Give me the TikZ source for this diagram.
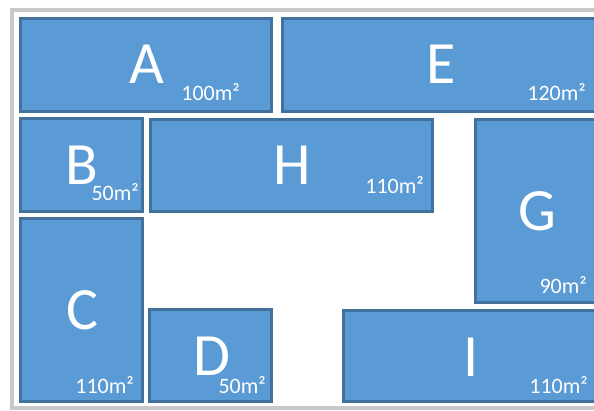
\documentclass[tikz,border=0pt]{standalone}
\usepackage{fontspec}
\setmainfont{Carlito}
\usepackage{xcolor}
\usepackage{tikz}

\definecolor{roomfill}{HTML}{5B9BD5}
\definecolor{roomline}{HTML}{41719C}
\definecolor{framegray}{HTML}{C8C8C8}

\tikzset{
  room/.style={fill=roomfill, draw=roomline, line width=3pt},
  letter/.style={anchor=base, inner sep=0pt, text=white, font=\fontsize{60}{60}\selectfont},
  area/.style={anchor=base east, inner sep=0pt, text=white, font=\fontsize{22}{22}\selectfont},
}

\begin{document}
\begin{tikzpicture}[x=1pt, y=-1pt]
  \useasboundingbox (0,0) rectangle (594,410);
  \clip (0,0) rectangle (594,410);
  % outer frame
  \draw[framegray, line width=4pt] (620,9.5) -- (12,9.5) -- (12,408) -- (620,408);
  % rooms
  \draw[room] (20.5,18.5) rectangle (271.5,111.5);
  \draw[room] (282.5,18.5) rectangle (610,111.5);
  \draw[room] (20.5,118.5) rectangle (142.5,211.5);
  \draw[room] (150.5,119.5) rectangle (432.5,211.5);
  \draw[room] (475.5,119.5) rectangle (610,302.5);
  \draw[room] (20.5,218.5) rectangle (142.5,401.5);
  \draw[room] (149.5,309.5) rectangle (271.5,401.5);
  \draw[room] (343.5,310.5) rectangle (610,401.5);
  % names and areas
  \node[letter] (labA) at (147,83) {A};
  \node[area] (areaA) at (240,100) {100m²};
  \node[letter] (labE) at (441,83) {E};
  \node[area] (areaE) at (586,100) {120m²};
  \node[letter] (labB) at (82,184) {B};
  \node[area] (areaB) at (139,200) {50m²};
  \node[letter] (labH) at (292,184) {H};
  \node[area] (areaH) at (424,193) {110m²};
  \node[letter] (labG) at (537,230) {G};
  \node[area] (areaG) at (587,293) {90m²};
  \node[letter] (labC) at (82,329) {C};
  \node[area] (areaC) at (134,393) {110m²};
  \node[letter] (labD) at (212,375) {D};
  \node[area] (areaD) at (266,393) {50m²};
  \node[letter] (labI) at (471,376) {I};
  \node[area] (areaI) at (588,393) {110m²};
\end{tikzpicture}
\end{document}
